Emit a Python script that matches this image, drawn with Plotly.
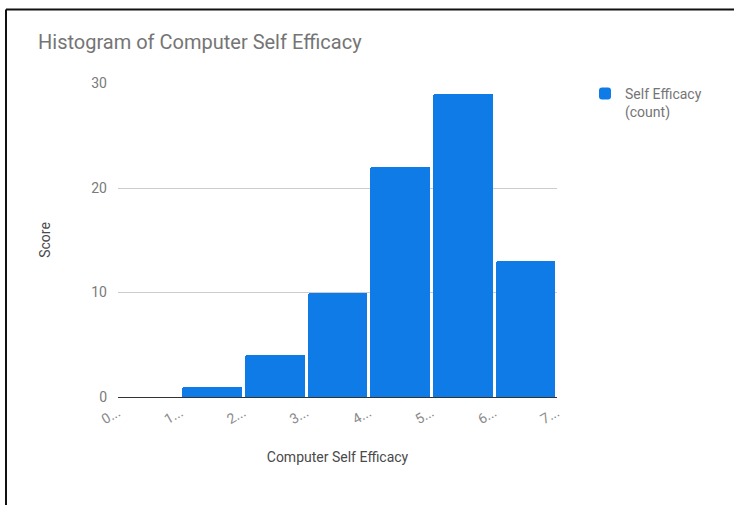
import plotly.graph_objects as go

# Histogram bins of the computer self-efficacy score and their counts
bin_starts = [0, 1, 2, 3, 4, 5, 6]
counts = [0, 1, 4, 10, 22, 29, 13]
tick_values = [0, 1, 2, 3, 4, 5, 6, 7]
tick_labels = ["0...", "1...", "2...", "3...", "4...", "5...", "6...", "7..."]

BLUE = "#0f7be6"
GREY = "#757575"

# plot-area pixel geometry (used to place the frame lines in paper units)
W, H = 734, 505
L, R, T, B = 118, 177, 83, 108
pw, ph = W - L - R, H - T - B


def px_x(x):
    return (x - L) / pw


def px_y(y):
    return (H - B - y) / ph


fig = go.Figure()
fig.add_trace(go.Bar(
    x=[s + 0.5 for s in bin_starts],
    y=counts,
    width=0.95,
    marker=dict(color=BLUE, line=dict(width=0), cornerradius=2),
    name="Self Efficacy<br>(count)",
    showlegend=True,
))

fig.update_layout(
    width=W, height=H,
    margin=dict(l=L, r=R, t=T, b=B),
    paper_bgcolor="white",
    plot_bgcolor="white",
    font=dict(family="Roboto", color=GREY, size=13),
    title=dict(text="Histogram of Computer Self Efficacy",
               x=38 / W, xref="container", xanchor="left",
               y=1 - 42 / H, yref="container", yanchor="middle",
               font=dict(size=20, color=GREY)),
    xaxis=dict(range=[0, 7], tickvals=tick_values, ticktext=tick_labels,
               tickangle=-30, showgrid=False, zeroline=False, showline=False,
               ticks="", ticklabelstandoff=4,
               tickfont=dict(size=14, color="#8a8a8a"),
               title=dict(text="Computer Self Efficacy", standoff=26,
                          font=dict(size=14, color="#4a4a4a"))),
    yaxis=dict(range=[0, 30.05], tickvals=[0, 10, 20, 30],
               gridcolor="#cccccc", gridwidth=1,
               zeroline=True, zerolinecolor="#333333", zerolinewidth=1,
               showline=False, ticks="", ticklabelstandoff=10,
               tickfont=dict(size=14, color="#7a7a7a"),
               title=dict(text="Score", standoff=37,
                          font=dict(size=14, color="#4a4a4a"))),
    legend=dict(x=px_x(585), y=px_y(78), xanchor="left", yanchor="top",
                font=dict(size=14, color=GREY), itemwidth=30, valign="top",
                tracegroupgap=0, bgcolor="rgba(0,0,0,0)"),
    bargap=0,
    shapes=[
        dict(type="line", xref="paper", yref="paper",
             x0=px_x(6), x1=px_x(W + 2), y0=px_y(9.5), y1=px_y(9.5),
             line=dict(color="#111111", width=2)),
        dict(type="line", xref="paper", yref="paper",
             x0=px_x(6), x1=px_x(6), y0=px_y(9.5), y1=px_y(H + 2),
             line=dict(color="#111111", width=2)),
    ],
)

fig.write_html("out.html")
